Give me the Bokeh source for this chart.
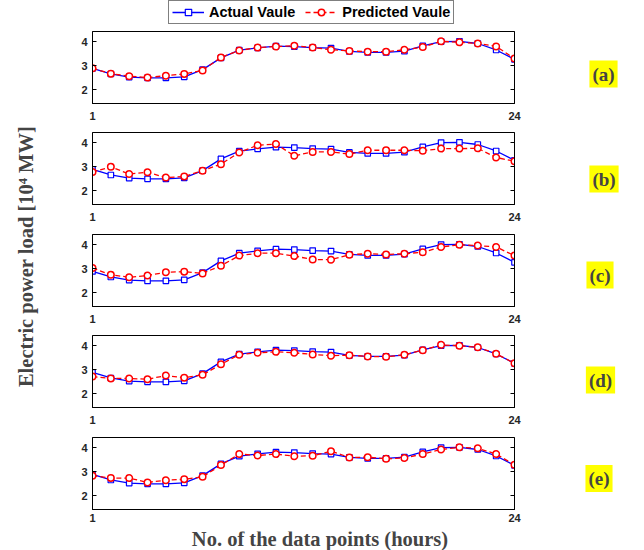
from math import pi
from bokeh.plotting import figure
from bokeh.models import (Range1d, FixedTicker, LinearAxis, Legend, LegendItem, Label)
from bokeh.layouts import row, column
from bokeh.embed import file_html
from bokeh.resources import INLINE

# ---------------- data ----------------
hours = list(range(1, 25))
actual = [2.88, 2.65, 2.52, 2.49, 2.49, 2.53, 2.83, 3.32, 3.64, 3.74, 3.81, 3.79,
          3.75, 3.73, 3.59, 3.55, 3.55, 3.60, 3.82, 4.00, 4.01, 3.92, 3.65, 3.26]
pred_a = [2.89, 2.66, 2.56, 2.50, 2.58, 2.65, 2.80, 3.34, 3.63, 3.75, 3.79, 3.83,
          3.75, 3.66, 3.61, 3.58, 3.58, 3.66, 3.77, 4.01, 3.97, 3.92, 3.80, 3.29]
pred_b = [2.77, 2.99, 2.69, 2.76, 2.54, 2.59, 2.83, 3.10, 3.59, 3.89, 3.94, 3.45,
          3.61, 3.61, 3.52, 3.68, 3.68, 3.68, 3.66, 3.75, 3.75, 3.76, 3.38, 3.22]
pred_c = [3.02, 2.74, 2.64, 2.71, 2.85, 2.87, 2.80, 3.12, 3.54, 3.64, 3.64, 3.52,
          3.38, 3.37, 3.58, 3.62, 3.59, 3.62, 3.68, 3.90, 3.99, 3.96, 3.90, 3.54]
pred_d = [2.71, 2.63, 2.63, 2.60, 2.75, 2.66, 2.78, 3.22, 3.62, 3.70, 3.74, 3.70,
          3.63, 3.58, 3.60, 3.55, 3.53, 3.62, 3.81, 4.03, 3.99, 3.93, 3.66, 3.26]
pred_e = [2.83, 2.73, 2.73, 2.55, 2.64, 2.68, 2.78, 3.27, 3.73, 3.67, 3.73, 3.64,
          3.66, 3.85, 3.59, 3.60, 3.53, 3.57, 3.73, 3.92, 4.01, 3.97, 3.73, 3.28]
predictions = [pred_a, pred_b, pred_c, pred_d, pred_e]
panel_labels = ["(a)", "(b)", "(c)", "(d)", "(e)"]
y_ticks = [2, 3, 4]
x_ticks = [1, 24]
legend_labels = ["Actual Vaule", "Predicted Vaule"]
x_title = "No. of the data points (hours)"
y_title = "Electric power load [10\u2074 MW]"

# ---------------- layout constants ----------------
SERIF = "Liberation Serif"
SANS = "Liberation Sans"
LEFT_W = 58
PANEL_W = 34 + 422 + 10
RIGHT_W = 104
FULL_W = LEFT_W + PANEL_W + RIGHT_W
LEG_H = 26
ROW_H = 531
XT_H = 19
borders = [(5, 27), (2, 27), (3, 27), (2, 28), (2, 3)]
std_off = [8, 8, 8, 8, 4]
# pixel positions (from page top-left) of the panel tags and the titles
tag_pos = [(603, 73.5), (603.5, 178.5), (599.5, 274.5), (600, 379.5), (598.5, 478)]
ytitle_pos = (25, 256)
xtitle_pos = (319.5, 538.5)


def blank(width, height, xr, yr):
    f = figure(width=width, height=height, x_range=xr, y_range=yr,
               toolbar_location=None, output_backend="svg", min_border=0,
               x_axis_location=None, y_axis_location=None)
    f.xgrid.visible = False
    f.ygrid.visible = False
    f.outline_line_color = None
    return f


def draw_series(fig, pred):
    r1 = fig.line(hours, actual, line_color="blue", line_width=1.3)
    r2 = fig.scatter(hours, actual, marker="square", size=5.5, line_color="blue",
                     fill_color="white", line_width=1.2)
    r3 = fig.line(hours, pred, line_color="red", line_width=1.3, line_dash="5 3")
    r4 = fig.scatter(hours, pred, marker="circle", size=6.5, line_color="red",
                     fill_color="white", line_width=1.5)
    return r1, r2, r3, r4


# legend strip (its series lie outside its view; only the legend shows)
leg = blank(PANEL_W, LEG_H, Range1d(-3, -2), Range1d(0, 1))
g1, g2, g3, g4 = draw_series(leg, pred_a)
legend = Legend(items=[LegendItem(label=legend_labels[0], renderers=[g1, g2]),
                       LegendItem(label=legend_labels[1], renderers=[g3, g4])],
                orientation="horizontal", location=(76, 2),
                label_text_font=SANS, label_text_font_style="bold",
                label_text_font_size="14.5px", label_text_color="black",
                label_height=16, glyph_height=16,
                glyph_width=32, label_standoff=5, spacing=10, padding=3, margin=0,
                border_line_color="black", border_line_width=1,
                background_fill_color="white")
leg.add_layout(legend, "center")

panels = [leg]
for i, pred in enumerate(predictions):
    top, bottom = borders[i]
    p = figure(frame_width=422, frame_height=72, x_range=Range1d(1, 24),
               y_range=Range1d(1.42, 4.42),
               toolbar_location=None, output_backend="svg",
               min_border_left=34, min_border_right=10, min_border_top=top,
               min_border_bottom=bottom)
    p.xgrid.visible = False
    p.ygrid.visible = False
    p.outline_line_color = "black"
    p.outline_line_width = 1
    p.background_fill_color = "white"
    p.border_fill_color = "white"

    for ax in (p.xaxis[0], p.yaxis[0]):
        ax.major_tick_in = 4
        ax.major_tick_out = 0
        ax.minor_tick_line_color = None
        ax.axis_line_color = "black"
        ax.major_tick_line_color = "black"
        ax.major_label_text_font = SANS
        ax.major_label_text_font_style = "bold"
        ax.major_label_text_font_size = "11px"
        ax.major_label_text_color = "#262626"
        ax.axis_label_standoff = 0
    p.xaxis.ticker = FixedTicker(ticks=x_ticks)
    p.yaxis.ticker = FixedTicker(ticks=y_ticks)
    p.xaxis.major_label_standoff = std_off[i]
    p.yaxis.major_label_standoff = 5

    rax = LinearAxis(ticker=FixedTicker(ticks=y_ticks),
                     major_label_overrides={t: "" for t in y_ticks})
    rax.major_tick_in = 4
    rax.major_tick_out = 0
    rax.minor_tick_line_color = None
    rax.major_label_standoff = 0
    rax.axis_label_standoff = 0
    p.add_layout(rax, "right")

    draw_series(p, pred)
    panels.append(p)

# y title strip (data coords = page pixels)
ylab = blank(LEFT_W, ROW_H, Range1d(0, LEFT_W), Range1d(ROW_H, 0))
ylab.add_layout(Label(x=ytitle_pos[0], y=ytitle_pos[1], text=y_title, angle=pi / 2,
                      text_font=SERIF, text_font_style="bold", text_font_size="20.5px",
                      text_align="center", text_baseline="middle"))

# panel tag strip
x0 = LEFT_W + PANEL_W
tags = blank(RIGHT_W, ROW_H, Range1d(x0, x0 + RIGHT_W), Range1d(ROW_H, 0))
for (tx, ty), t in zip(tag_pos, panel_labels):
    tags.add_layout(Label(x=tx, y=ty, text=t, text_font=SERIF, text_font_style="bold",
                          text_font_size="19px", text_align="center",
                          text_baseline="middle", background_fill_color="yellow",
                          padding=3))

# x title strip (data coords = page pixels)
xt = blank(FULL_W, XT_H, Range1d(0, FULL_W), Range1d(ROW_H + XT_H, ROW_H))
xt.add_layout(Label(x=xtitle_pos[0], y=xtitle_pos[1], text=x_title,
                    text_font=SERIF, text_font_style="bold", text_font_size="20.5px",
                    text_align="center", text_baseline="middle"))

layout = column(row(ylab, column(*panels), tags), xt)
open("out.html", "w").write(file_html(layout, INLINE))
